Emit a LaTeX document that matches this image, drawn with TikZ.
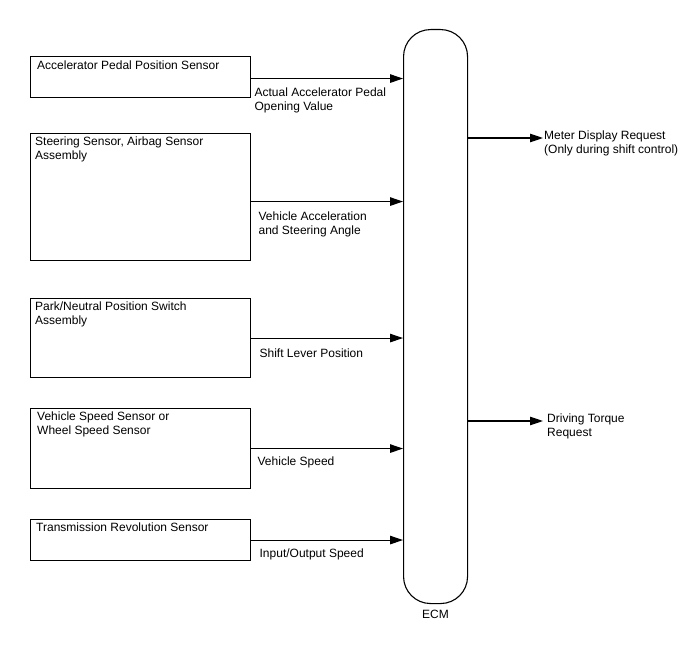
\documentclass[tikz,border=0pt]{standalone}
\usepackage{fontspec}
\setmainfont{Liberation Sans}
\usetikzlibrary{arrows.meta,positioning}

\begin{document}
\begin{tikzpicture}[x=1pt,y=-1pt,
  sbox/.style={draw,line width=1.1pt,minimum width=220pt,anchor=north west,inner sep=0pt},
  txt/.style={font=\fontsize{12}{14}\selectfont,align=left,inner sep=0pt},
  a/.style={-{Triangle[length=13pt,width=8.5pt]},line width=1.1pt}]
  \useasboundingbox[fill=white] (0,0) rectangle (688,658);
  % sensors
  \node[sbox,minimum height=41pt,label={[txt,anchor=north west,xshift=7pt,yshift=-5pt]north west:Accelerator Pedal Position Sensor}] (ap) at (30,56) {};
  \node[sbox,minimum height=127pt,label={[txt,anchor=north west,xshift=5pt,yshift=-4pt]north west:Steering Sensor, Airbag Sensor\\Assembly}] (ss) at (30,133) {};
  \node[sbox,minimum height=79pt,label={[txt,anchor=north west,xshift=5pt,yshift=-4pt]north west:Park/Neutral Position Switch\\Assembly}] (pn) at (30,298) {};
  \node[sbox,minimum height=80pt,label={[txt,anchor=north west,xshift=7pt,yshift=-4pt]north west:Vehicle Speed Sensor or\\Wheel Speed Sensor}] (vs) at (30,408) {};
  \node[sbox,minimum height=41pt,label={[txt,anchor=north west,xshift=6pt,yshift=-4pt]north west:Transmission Revolution Sensor}] (tr) at (30,519) {};
  % ECM
  \node[draw,line width=1.1pt,rounded corners=27pt,minimum width=64pt,minimum height=574pt,anchor=north west,
    label={[txt,yshift=-6pt]below:ECM}] (ecm) at (403,29) {};
  % inputs
  \draw[a] ([yshift=-1.5pt]ap.east) -- ([yshift=-1.5pt]ap.east -| ecm.west)
    node[txt,anchor=north west,pos=0,xshift=3pt,yshift=-9pt]{Actual Accelerator Pedal\\Opening Value};
  \draw[a] ([yshift=-4.5pt]ss.east) -- ([yshift=-4.5pt]ss.east -| ecm.west)
    node[txt,anchor=north west,pos=0,xshift=7pt,yshift=-10pt]{Vehicle Acceleration\\and Steering Angle};
  \draw[a] (pn.east) -- (pn.east -| ecm.west)
    node[txt,anchor=north west,pos=0,xshift=8pt,yshift=-10pt]{Shift Lever Position};
  \draw[a] (vs.east) -- (vs.east -| ecm.west)
    node[txt,anchor=north west,pos=0,xshift=6pt,yshift=-8pt]{Vehicle Speed};
  \draw[a] (tr.east) -- (tr.east -| ecm.west)
    node[txt,anchor=north west,pos=0,xshift=8pt,yshift=-8pt]{Input/Output Speed};
  % outputs
  \coordinate (md) at (543,138);
  \coordinate (dt) at (543,421);
  \draw[a] (md -| ecm.east) -- (md);
  \draw[a] (dt -| ecm.east) -- (dt);
  \node[txt,anchor=north west] (mdl) at (544,131) {Meter Display Request\\(Only during shift control)};
  \node[txt,anchor=north west] (dtl) at (547,414) {Driving Torque\\Request};
\end{tikzpicture}
\end{document}
